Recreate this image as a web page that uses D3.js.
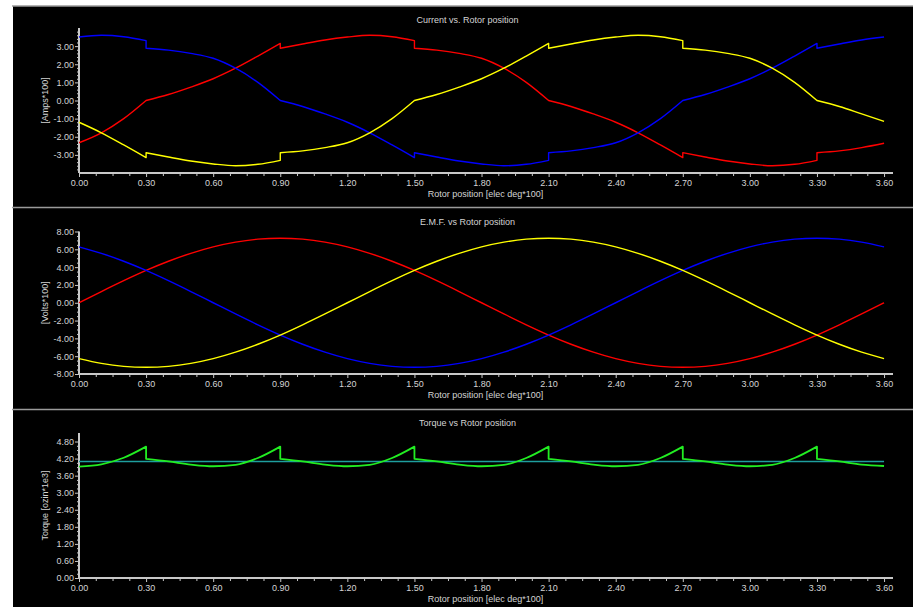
<!DOCTYPE html>
<html>
    <head>
        <meta charset="utf-8">
        <script src="https://cdnjs.cloudflare.com/ajax/libs/d3/7.8.5/d3.min.js"></script>
        <title>Rotor position plots</title>

        <style>
            html, body {
                margin: 0;
                background-color: #fff;
            }

            .svg_canvas {
                display: block;
                font-family: "Liberation Sans", Arial, sans-serif;
            }
        </style>
    </head>
    <body>
        <svg height="607" width="913" class="svg_canvas"></svg>

        <script>

            // x grid: commutation points are listed twice (value before / after the step)
            var stepPos = [0, 0.1, 0.2, 0.3, 0.3, 0.4, 0.5, 0.6, 0.7, 0.8, 0.9, 0.9, 1.0, 1.1, 1.2, 1.3, 1.4, 1.5,
                           1.5, 1.6, 1.7, 1.8, 1.9, 2.0, 2.1, 2.1, 2.2, 2.3, 2.4, 2.5, 2.6, 2.7, 2.7, 2.8, 2.9, 3.0,
                           3.1, 3.2, 3.3, 3.3, 3.4, 3.5, 3.6];

            var currentRed = [-2.33, -1.78, -1.0, 0.0,
                               0.0, 0.33, 0.74, 1.2, 1.78, 2.45, 3.15,
                               2.88, 3.12, 3.34, 3.5, 3.6, 3.52, 3.3,
                               2.88, 2.78, 2.6, 2.33, 1.78, 1.0, 0.0,
                               0.0, -0.33, -0.74, -1.2, -1.78, -2.45, -3.15,
                              -2.88, -3.12, -3.34, -3.5, -3.6, -3.52, -3.3,
                              -2.88, -2.78, -2.6, -2.36];

            var currentBlue = [3.5, 3.6, 3.52, 3.3,
                               2.88, 2.78, 2.6, 2.33, 1.78, 1.0, 0.0,
                               0.0, -0.33, -0.74, -1.2, -1.78, -2.45, -3.15,
                              -2.88, -3.12, -3.34, -3.5, -3.6, -3.52, -3.3,
                              -2.88, -2.78, -2.6, -2.33, -1.78, -1.0, 0.0,
                               0.0, 0.33, 0.74, 1.2, 1.78, 2.45, 3.15,
                               2.88, 3.12, 3.34, 3.5];

            var currentYellow = [-1.2, -1.78, -2.45, -3.15,
                                 -2.88, -3.12, -3.34, -3.5, -3.6, -3.52, -3.3,
                                 -2.88, -2.78, -2.6, -2.33, -1.78, -1.0, 0.0,
                                  0.0, 0.33, 0.74, 1.2, 1.78, 2.45, 3.15,
                                  2.88, 3.12, 3.34, 3.5, 3.6, 3.52, 3.3,
                                  2.88, 2.78, 2.6, 2.33, 1.78, 1.0, 0.0,
                                  0.0, -0.33, -0.74, -1.15];

            var emfPos = [0, 0.1, 0.2, 0.3, 0.4, 0.5, 0.6, 0.7, 0.8, 0.9, 1.0, 1.1, 1.2, 1.3, 1.4, 1.5, 1.6, 1.7, 1.8,
                          1.9, 2.0, 2.1, 2.2, 2.3, 2.4, 2.5, 2.6, 2.7, 2.8, 2.9, 3.0, 3.1, 3.2, 3.3, 3.4, 3.5, 3.6];

            var emfRed = [0, 1.26, 2.48, 3.63, 4.66, 5.55, 6.28, 6.81, 7.14, 7.25, 7.14, 6.81, 6.28, 5.55, 4.66, 3.63,
                          2.48, 1.26, 0, -1.26, -2.48, -3.63, -4.66, -5.55, -6.28, -6.81, -7.14, -7.25, -7.14, -6.81,
                          -6.28, -5.55, -4.66, -3.63, -2.48, -1.26, 0];

            var emfBlue = [6.28, 5.55, 4.66, 3.63, 2.48, 1.26, 0, -1.26, -2.48, -3.63, -4.66, -5.55, -6.28, -6.81,
                           -7.14, -7.25, -7.14, -6.81, -6.28, -5.55, -4.66, -3.63, -2.48, -1.26, 0, 1.26, 2.48, 3.63,
                           4.66, 5.55, 6.28, 6.81, 7.14, 7.25, 7.14, 6.81, 6.28];

            var emfYellow = [-6.28, -6.81, -7.14, -7.25, -7.14, -6.81, -6.28, -5.55, -4.66, -3.63, -2.48, -1.26, 0,
                             1.26, 2.48, 3.63, 4.66, 5.55, 6.28, 6.81, 7.14, 7.25, 7.14, 6.81, 6.28, 5.55, 4.66, 3.63,
                             2.48, 1.26, 0, -1.26, -2.48, -3.63, -4.66, -5.55, -6.28];

            var torque = [3.92, 4.0, 4.23, 4.62,
                          4.19, 4.1, 3.99, 3.93, 3.98, 4.22, 4.62,
                          4.19, 4.1, 3.99, 3.93, 3.98, 4.22, 4.62,
                          4.19, 4.1, 3.99, 3.93, 3.98, 4.22, 4.62,
                          4.19, 4.1, 3.99, 3.93, 3.98, 4.22, 4.62,
                          4.19, 4.1, 3.99, 3.93, 3.98, 4.22, 4.62,
                          4.19, 4.1, 3.99, 3.94];

            var torqueAvgPos = [0, 3.6];
            var torqueAvg = [4.1, 4.1];

            var xTicks = [0, 0.3, 0.6, 0.9, 1.2, 1.5, 1.8, 2.1, 2.4, 2.7, 3.0, 3.3, 3.6];
            var currentTicks = [-3, -2, -1, 0, 1, 2, 3];
            var emfTicks = [-8, -6, -4, -2, 0, 2, 4, 6, 8];
            var torqueTicks = [0, 0.6, 1.2, 1.8, 2.4, 3.0, 3.6, 4.2, 4.8];

            var textColor = "#d4d4d4";
            var axisColor = "#c8c8c8";
            var fmt = function(d){ return d.toFixed(2); };

            var svg = d3.select(".svg_canvas");

            // black panels with grey separators
            svg.append("rect")
                .attr("x", 13).attr("y", 6)
                .attr("width", 900).attr("height", 601)
                .style("fill", "#000");

            [6, 207.5, 409.5].forEach(function(y){
                svg.append("line")
                    .attr("x1", 12).attr("x2", 913)
                    .attr("y1", y).attr("y2", y)
                    .style("stroke", "#9a9a9a")
                    .style("stroke-width", 1.6);
            });

            var x = d3.scaleLinear()
                .domain([0, 3.64])
                .range([79, 893]);

            function minorTicks(ticks, n){
                var out = [];
                for (var i = 0; i < ticks.length - 1; i++) {
                    var step = (ticks[i + 1] - ticks[i]) / n;
                    for (var k = 1; k < n; k++) out.push(ticks[i] + k * step);
                }
                return out;
            }

            // splits the grid where a position repeats, draws each run as a curve and joins them
            function stepPath(pos, vals, line){
                var runs = [[]];
                pos.forEach(function(p, i){
                    if (i > 0 && p === pos[i - 1]) runs.push([]);
                    runs[runs.length - 1].push([p, vals[i]]);
                });
                return runs.map(function(r, i){
                    var s = line(r);
                    return i ? "L" + s.slice(1) : s;
                }).join("");
            }

            function drawPanel(cfg){
                var g = svg.append("g");

                var y = d3.scaleLinear()
                    .domain(cfg.yDomain)
                    .range([cfg.yBottom, cfg.yTop]);

                // x axis
                var xAxis = g.append("g")
                    .attr("transform", "translate(0," + cfg.yBottom + ")")
                    .call(d3.axisBottom(x).tickValues(xTicks).tickSize(4).tickPadding(3).tickFormat(fmt));
                g.append("g")
                    .attr("transform", "translate(0," + cfg.yBottom + ")")
                    .call(d3.axisBottom(x).tickValues(minorTicks(xTicks, 4)).tickSize(3).tickFormat(""))
                    .select(".domain").remove();

                // y axis
                var yAxis = g.append("g")
                    .attr("transform", "translate(79,0)")
                    .call(d3.axisLeft(y).tickValues(cfg.yTicks).tickSize(4).tickPadding(1).tickFormat(fmt));
                g.append("g")
                    .attr("transform", "translate(79,0)")
                    .call(d3.axisLeft(y).tickValues(minorTicks(cfg.yMinorBase, cfg.yMinor)).tickSize(2).tickFormat(""))
                    .select(".domain").remove();

                xAxis.select(".domain")
                    .attr("d", "M79,0H893")
                    .style("stroke", axisColor)
                    .style("stroke-width", 2);
                yAxis.select(".domain")
                    .attr("d", "M0," + cfg.yTop + "V" + cfg.yBottom)
                    .style("stroke", axisColor)
                    .style("stroke-width", 2);

                g.selectAll(".tick line")
                    .style("stroke", axisColor);
                g.selectAll(".tick text")
                    .style("fill", textColor)
                    .style("font-size", "9px")
                    .style("font-family", "Liberation Sans, Arial, sans-serif");

                // series
                var line = d3.line()
                    .x(function(d){ return x(d[0]); })
                    .y(function(d){ return y(d[1]); })
                    .curve(d3.curveMonotoneX);

                cfg.series.forEach(function(s){
                    g.append("path")
                        .attr("d", stepPath(s.pos, s.vals, line))
                        .style("fill", "none")
                        .style("stroke", s.color)
                        .style("stroke-width", s.width)
                        .style("stroke-linejoin", "round");
                });

                // texts
                g.append("text")
                    .attr("x", 467.5)
                    .attr("y", cfg.titleY)
                    .attr("text-anchor", "middle")
                    .style("fill", textColor)
                    .style("font-size", "9px")
                    .text(cfg.title);

                g.append("text")
                    .attr("x", 485.5)
                    .attr("y", cfg.yBottom + 24)
                    .attr("text-anchor", "middle")
                    .style("fill", textColor)
                    .style("font-size", "9px")
                    .text("Rotor position [elec deg*100]");

                g.append("text")
                    .attr("transform", "translate(48," + ((cfg.yTop + cfg.yBottom) / 2) + ") rotate(-90)")
                    .attr("text-anchor", "middle")
                    .style("fill", textColor)
                    .style("font-size", "9px")
                    .text(cfg.yLabel);
            }

            drawPanel({
                title: "Current vs. Rotor position",
                titleY: 23,
                yLabel: "[Amps*100]",
                yDomain: [-4, 4],
                yTop: 28,
                yBottom: 173,
                yTicks: currentTicks,
                yMinorBase: [-4, -3, -2, -1, 0, 1, 2, 3, 4],
                yMinor: 5,
                series: [
                    {pos: stepPos, vals: currentRed, color: "#ff0000", width: 1.4},
                    {pos: stepPos, vals: currentBlue, color: "#0000ff", width: 1.4},
                    {pos: stepPos, vals: currentYellow, color: "#ffff00", width: 1.4}
                ]
            });

            drawPanel({
                title: "E.M.F. vs Rotor position",
                titleY: 225,
                yLabel: "[Volts*100]",
                yDomain: [-8, 8],
                yTop: 231.5,
                yBottom: 374,
                yTicks: emfTicks,
                yMinorBase: emfTicks,
                yMinor: 4,
                series: [
                    {pos: emfPos, vals: emfRed, color: "#ff0000", width: 1.4},
                    {pos: emfPos, vals: emfBlue, color: "#0000ff", width: 1.4},
                    {pos: emfPos, vals: emfYellow, color: "#ffff00", width: 1.4}
                ]
            });

            drawPanel({
                title: "Torque vs Rotor position",
                titleY: 426,
                yLabel: "Torque [ozin*1e3]",
                yDomain: [0, 5.1],
                yTop: 433,
                yBottom: 578,
                yTicks: torqueTicks,
                yMinorBase: torqueTicks,
                yMinor: 4,
                series: [
                    {pos: torqueAvgPos, vals: torqueAvg, color: "#1e9e9e", width: 1.4},
                    {pos: stepPos, vals: torque, color: "#22ee22", width: 1.8}
                ]
            });

        </script>
    </body>
</html>
